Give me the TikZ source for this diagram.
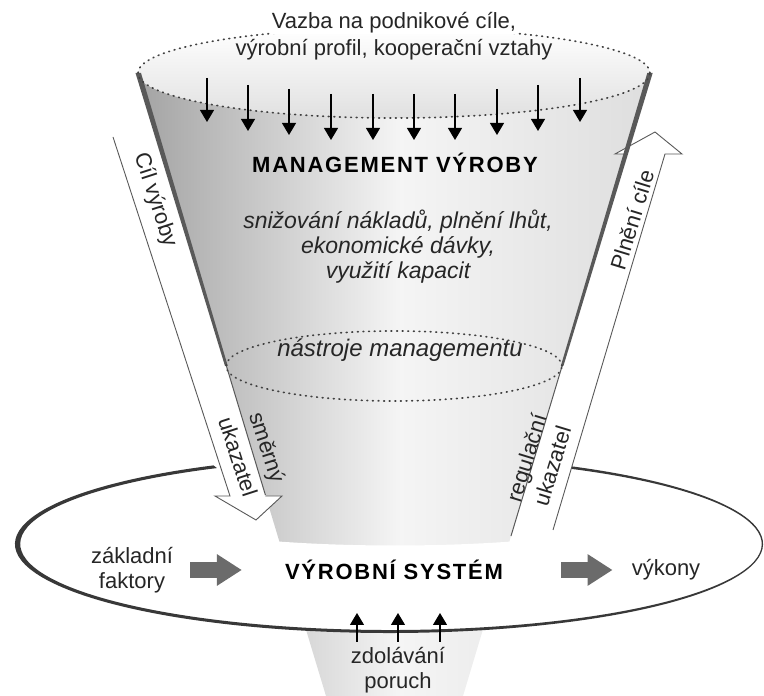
\documentclass[tikz,border=0pt]{standalone}
\usepackage{fontspec}
\setmainfont{Liberation Sans}
\newfontfamily\spacedfont[LetterSpace=8]{Liberation Sans}
\usetikzlibrary{arrows.meta}

\begin{document}
\begin{tikzpicture}[x=1pt,y=1pt,
		txt/.style={font=\fontsize{22}{25}\selectfont, text=black!85, inner sep=0pt, align=center},
		itxt/.style={txt, font=\fontsize{23}{25}\selectfont\itshape},
		wide/.style={txt, font=\fontsize{22}{31}\selectfont},
		title/.style={font=\spacedfont\bfseries\fontsize{22}{25}\selectfont, inner sep=0pt},
		dotline/.style={draw=black!75, line width=1.7pt, dash pattern=on 0.8pt off 4.8pt, line cap=round},
		hollow/.style={draw=black!65, line width=0.9pt},
		smallarrow/.style={line width=1.1pt, -{Triangle[length=12pt,width=14pt]}},
		blockarrow/.style={draw=black!58, line width=16pt, -{Triangle[length=25pt,width=30pt]}}]
	\useasboundingbox (0,0) rectangle (764,696);
	\begin{scope}
		\clip (138,623) -- (326,0) -- (463,0) -- (650,623) -- cycle;
		\shade[left color=black!36, right color=black!4] (138,0) rectangle (400,623);
		\shade[left color=black!4, right color=black!13] (400,0) rectangle (650,623);
	\end{scope}
	\begin{scope}
		\clip (389,152) ellipse [x radius=374, y radius=89];
		\fill[white] (240,158) .. controls (330,148) and (460,148) .. (550,158) -- (550,50) -- (240,50) -- cycle;
	\end{scope}
	\fill[black!78] (389,152) ++(118:374 and 89) arc[start angle=118, end angle=421, x radius=374, y radius=89]
	-- (570.7,227.2) arc[start angle=421, end angle=118, x radius=370.7, y radius=86] -- cycle;
	\fill[white] (113,559) -- (230,200) -- (215,200) -- (256,176) -- (282,200) -- (265.4,200) -- (157.3,559) -- cycle;
	\fill[white] (625.7,542) -- (615,542) -- (655,564) -- (682,542) -- (665,542) -- (553,166) -- (512.8,166) -- cycle;
	\shade[top color=white, bottom color=black!12] (394,623) ellipse [x radius=256, y radius=45];
	\fill[black!65] (135.5,623) -- (141,623) -- (227.8,330) -- (225,330) -- cycle;
	\fill[black!65] (647.3,623) -- (652.7,623) -- (563.4,330) -- (560.8,330) -- cycle;
	\draw[black!65, line width=1pt] (226.4,330) -- (265.4,201);
	\draw[black!65, line width=1pt] (562.1,330) -- (511,160);
	\draw[hollow] (113,559) -- (230,200) -- (215,200) -- (256,176) -- (282,200) -- (265.4,200);
	\draw[hollow] (625.7,542) -- (615,542) -- (655,564) -- (682,542) -- (665,542) -- (553,166);
	\draw[dotline] (394,623) ellipse [x radius=256, y radius=45];
	\draw[dotline] (394,330) ellipse [x radius=168, y radius=35];
	\foreach \x/\a/\b in {207/618/574, 248/611/565, 289/607/561, 331/602/556, 373/602/556,
			414/602/556, 455/602/556, 497/607/561, 538/611/565, 580/618/574}
	\draw[smallarrow] (\x,\a) -- (\x,\b);

	\node[txt, fill=white, inner sep=1pt] (vazba) at (394,673) {Vazba na podnikové cíle,};
	\node[txt] (profil) at (394,646) {výrobní profil, kooperační vztahy};
	\node[title] (mgmt) at (395,533) {MANAGEMENT VÝROBY};
	\node[itxt] (cile) at (398,449) {snižování nákladů, plnění lhůt,\\ekonomické dávky,\\využití kapacit};
	\node[itxt, font=\fontsize{24}{25}\selectfont\itshape] (nastroje) at (400,346) {nástroje managementu};
	\node[txt, rotate=-72] (cil) at (155,496) {Cíl výroby};
	\node[wide, rotate=-72] (smerny) at (253,244) {směrný\\ukazatel};
	\node[txt, rotate=73] (plneni) at (632,476) {Plnění cíle};
	\node[txt, rotate=73, font=\fontsize{22}{27}\selectfont] (regul) at (539,234) {regulační\\ukazatel};
	\node[txt] (faktory) at (132,126) {základní\\faktory};
	\node[title] (system) at (394,126) {VÝROBNÍ SYSTÉM};
	\node[txt] (vykony) at (666,126) {výkony};
	\node[txt] (poruchy) at (398,26) {zdolávání\\poruch};

	\draw[blockarrow] ([xshift=17pt]faktory.east) -- ([xshift=-43pt]system.west);
	\draw[blockarrow] ([xshift=58pt]system.east) -- ([xshift=-19pt]vykony.west);
	\foreach \x in {357,398,440}
	\draw[smallarrow] (\x,54) -- (\x,83);
\end{tikzpicture}
\end{document}
